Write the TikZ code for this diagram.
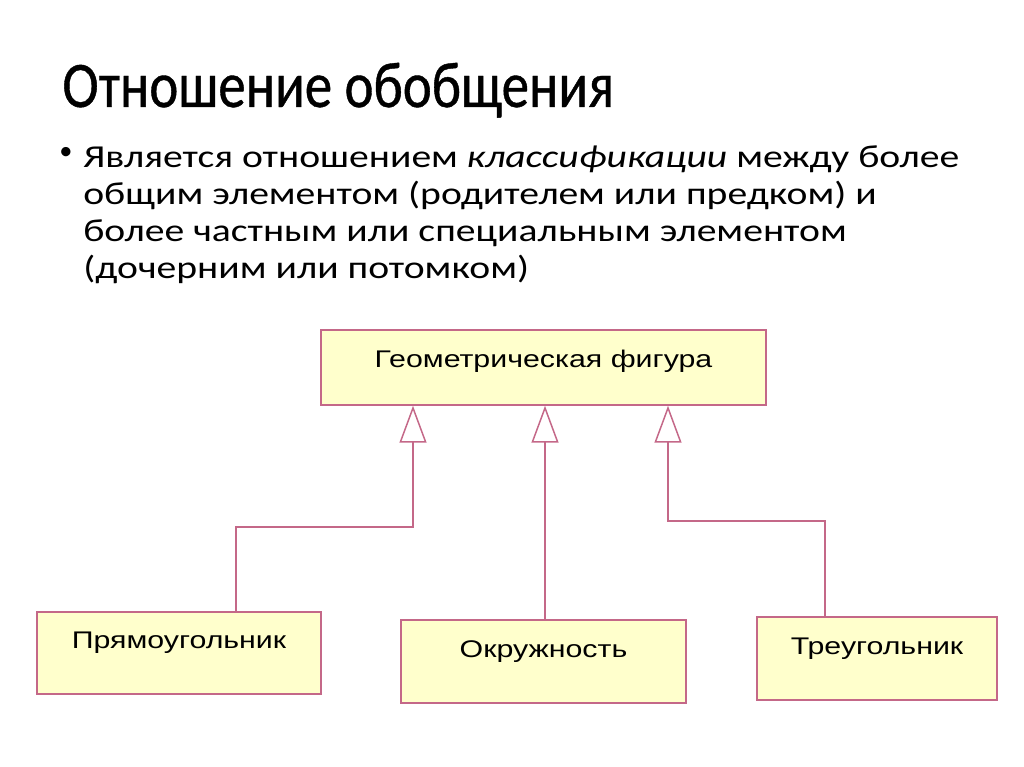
\documentclass[tikz,border=0pt]{standalone}
\usepackage{fontspec}
\setmainfont{Carlito}
\newfontfamily\titlefont[FakeStretch=0.845, FakeBold=0.6]{Carlito}
\newfontfamily\bodyfont[FakeStretch=1.24]{Carlito}
\newfontfamily\umlfont[FakeStretch=1.26]{Liberation Sans}
\usetikzlibrary{arrows.meta,positioning}
\definecolor{umlrose}{RGB}{196,104,136}
\definecolor{umlfill}{RGB}{255,255,204}
\tikzset{
  umlclass/.style={rectangle, draw=umlrose, fill=umlfill, line width=0.85pt,
                   inner sep=0pt, font=\umlfont\fontsize{13.7pt}{16pt}\selectfont,
                   text height=0.34cm, text depth=0.52cm},
  umlgen/.style={-{Triangle[open, length=0.74cm, width=0.54cm]},
                 line width=0.85pt, umlrose},
}

\begin{document}
\begin{tikzpicture}[x=0.02cm, y=-0.02cm,
    slidetitle/.style={font=\titlefont\fontsize{37pt}{44pt}\selectfont, inner sep=0pt},
    slidebody/.style={font=\bodyfont\fontsize{18.2pt}{21pt}\selectfont, inner sep=0pt}]
  \useasboundingbox (0,0) rectangle (1024,767);
  \node[slidetitle, anchor=base west] (title) at (62,107) {Отношение обобщения};
  \node[font=\fontsize{15pt}{17pt}\selectfont, inner sep=0pt] (dot) at (66,153) {•};
  \node[slidebody, anchor=base west, align=left] (body) at (83,278)
    {Является отношением \textit{классификации} между более\\
     общим элементом (родителем или предком) и\\
     более частным или специальным элементом\\
     (дочерним или потомком)};
  \node[umlclass, minimum width=8.9cm, minimum height=1.5cm, text depth=0.34cm]
    (geo) at (543.5,367.5) {Геометрическая фигура};
  \node[umlclass, minimum width=5.68cm, minimum height=1.64cm]
    (rect) at (179,653) {Прямоугольник};
  \node[umlclass, minimum width=5.7cm, minimum height=1.66cm]
    (circ) at (543.5,661.5) {Окружность};
  \node[umlclass, minimum width=4.8cm, minimum height=1.66cm]
    (tri) at (877,658.5) {Треугольник};
  \coordinate (rectup) at (236,527);
  \coordinate (rectin) at (413,527);
  \coordinate (circin) at (545,527);
  \coordinate (triup) at (825,521);
  \coordinate (triin) at (668,521);
  \draw[umlgen] (rect.north -| rectup) -- (rectup) -- (rectin) -- (geo.south -| rectin);
  \draw[umlgen] (circ.north -| circin) -- (geo.south -| circin);
  \draw[umlgen] (tri.north -| triup) -- (triup) -- (triin) -- (geo.south -| triin);
\end{tikzpicture}
\end{document}
